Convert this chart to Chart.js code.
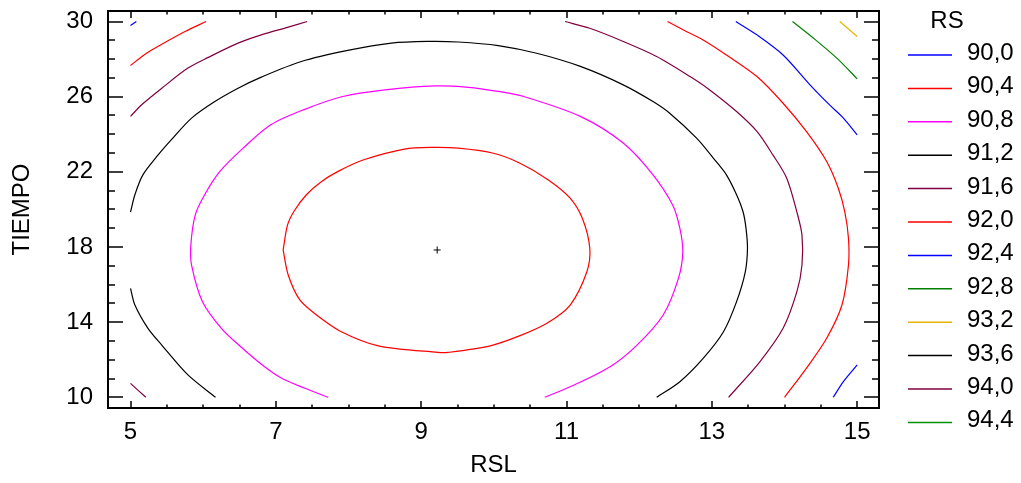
<!DOCTYPE html>
<html>
<head>
<meta charset="utf-8">
<script src="https://cdn.jsdelivr.net/npm/chart.js@4.4.1/dist/chart.umd.min.js"></script>
<style>
  html, body { margin: 0; padding: 0; background: #fff; }
</style>
</head>
<body>
<canvas id="chart" width="1021" height="483"></canvas>
<script>
// CONTOUR LEVELS (RS)

const levels = [90.0, 90.4, 90.8, 91.2, 91.6, 92.0, 92.4, 92.8, 93.2, 93.6, 94.0, 94.4];
const levelColors = [
  '#0000ff', '#ff0000', '#ff00ff', '#000000', '#800040', '#ff0000',
  '#0000ff', '#008000', '#e6b400', '#000000', '#800040', '#009000',
];

const xTicks = [5, 7, 9, 11, 13, 15];
const yTicks = [10, 14, 18, 22, 26, 30];

// contour pieces as [RSL, TIEMPO] pairs

const rs904 = [
  [7.10, 17.84], [7.16, 19.16], [7.25, 19.90], [7.42, 20.78], [7.63, 21.49],
  [7.87, 22.05], [8.21, 22.64], [8.77, 23.21], [9.16, 23.30], [9.51, 23.26],
  [9.98, 23.00], [10.36, 22.46], [10.75, 21.57], [11.05, 20.60], [11.22, 19.50],
  [11.32, 17.93], [11.28, 16.68], [11.05, 14.91], [10.73, 13.94], [10.36, 13.28],
  [9.95, 12.74], [9.37, 12.39], [9.23, 12.39], [8.41, 12.74], [7.90, 13.49],
  [7.56, 14.38], [7.33, 15.18], [7.17, 16.51], [7.10, 17.84],
];

const rs908 = [
  [7.72, 10.00], [7.40, 10.48], [7.08, 11.01], [6.80, 11.76], [6.49, 12.78],
  [6.25, 13.67], [5.99, 15.09], [5.84, 17.04], [5.83, 18.10], [5.89, 19.70],
  [6.02, 20.78], [6.23, 22.02], [6.55, 23.26], [6.93, 24.50], [7.38, 25.30],
  [7.92, 26.01], [8.50, 26.36], [9.19, 26.57], [9.65, 26.50], [10.06, 26.28],
  [10.41, 26.01], [11.19, 24.95], [11.78, 23.53], [12.19, 21.84], [12.46, 20.23],
  [12.56, 18.99], [12.60, 17.74], [12.54, 16.33], [12.33, 14.38], [11.97, 12.78],
  [11.60, 11.63], [11.05, 10.56], [10.70, 10.00],
];

const rs912a = [
  [5.00, 19.86], [5.06, 20.78], [5.17, 21.84], [5.38, 22.90], [5.56, 23.70],
  [5.84, 24.86], [6.16, 25.74], [6.48, 26.45], [6.80, 27.04], [7.35, 27.87],
  [7.99, 28.46], [8.59, 28.85], [9.09, 28.94], [9.51, 28.91], [10.06, 28.72],
  [10.59, 28.31], [11.19, 27.61], [11.78, 26.63], [12.19, 25.74], [12.42, 25.12],
  [12.79, 23.79], [13.02, 22.73], [13.20, 21.84], [13.34, 20.78], [13.43, 19.86],
  [13.47, 18.99], [13.49, 17.93], [13.46, 16.68], [13.34, 15.09], [13.16, 13.49],
  [12.88, 12.07], [12.56, 10.83], [12.24, 10.00],
];
const rs912b = [[5.00, 15.80], [5.06, 14.91], [5.24, 13.67], [5.43, 12.78], [5.79, 11.19], [6.17, 10.00]];

const rs916a = [
  [5.00, 24.95], [5.15, 25.56], [5.43, 26.45], [5.79, 27.52], [6.07, 28.09],
  [6.48, 28.85], [6.80, 29.29], [7.17, 29.70], [7.43, 30.00],
];
const rs916b = [
  [10.98, 30.00], [11.32, 29.64], [11.78, 28.94], [12.24, 28.14], [12.70, 27.07],
  [12.97, 26.36], [13.34, 25.21], [13.62, 24.15], [13.84, 22.90], [14.03, 21.66],
  [14.17, 19.86], [14.24, 18.63], [14.24, 17.04], [14.17, 15.62], [13.98, 13.67],
  [13.66, 11.89], [13.23, 10.00],
];
const rs916c = [[5.00, 10.74], [5.21, 10.00]];

const rs920a = [[5.00, 27.66], [5.20, 28.26], [5.43, 28.79], [5.75, 29.47], [6.04, 30.00]];
const rs920b = [
  [12.39, 30.00], [12.61, 29.55], [12.88, 29.02], [13.20, 28.22], [13.62, 27.07],
  [13.98, 25.65], [14.30, 24.15], [14.58, 22.55], [14.74, 21.13], [14.83, 19.86],
  [14.88, 18.46], [14.88, 17.04], [14.79, 14.91], [14.58, 13.14], [14.30, 11.54],
  [14.00, 10.00],
];

const rs924a = [[5.00, 29.79], [5.08, 30.00]];
const rs924b = [
  [13.33, 30.00], [13.62, 29.29], [13.98, 28.22], [14.35, 26.63], [14.62, 25.56],
  [14.81, 24.86], [15.00, 23.97],
];
const rs924c = [[14.67, 10.00], [14.81, 10.83], [15.00, 11.72]];

const rs928 = [[14.11, 30.00], [14.40, 29.11], [14.72, 28.05], [15.00, 26.95]];
const rs932 = [[14.76, 30.00], [15.00, 29.20]];

const minimumPoint = [9.22, 17.84];

const pieces = [
  { level: 90.4, points: rs904 },
  { level: 90.8, points: rs908 },
  { level: 91.2, points: rs912a },
  { level: 91.2, points: rs912b },
  { level: 91.6, points: rs916a },
  { level: 91.6, points: rs916b },
  { level: 91.6, points: rs916c },
  { level: 92.0, points: rs920a },
  { level: 92.0, points: rs920b },
  { level: 92.4, points: rs924a },
  { level: 92.4, points: rs924b },
  { level: 92.4, points: rs924c },
  { level: 92.8, points: rs928 },
  { level: 93.2, points: rs932 },
];

// CHART

const font = 'Liberation Sans, Arial, sans-serif';

const colorFor = (level) => levelColors[levels.indexOf(level)];

const datasets = pieces.map((p) => ({
  data: p.points.map(([x, y]) => ({ x, y })),
  showLine: true,
  borderColor: colorFor(p.level),
  borderWidth: 1.2,
  pointRadius: 0,
  tension: 0.3,
  fill: false,
}));

datasets.push({
  data: [{ x: minimumPoint[0], y: minimumPoint[1] }],
  pointStyle: 'cross',
  pointRadius: 3.5,
  borderColor: '#000',
  borderWidth: 1,
  showLine: false,
});

const frameAndLegend = {
  id: 'frameAndLegend',
  afterDatasetsDraw(chart) {
    const { ctx, chartArea: a, scales: { x, y } } = chart;
    ctx.save();
    ctx.strokeStyle = '#000';
    ctx.lineWidth = 2;
    ctx.strokeRect(a.left, a.top, a.right - a.left, a.bottom - a.top);

    ctx.lineWidth = 1.5;
    ctx.beginPath();
    for (let v = 5; v <= 15.001; v += 0.5) {
      const px = Math.round(x.getPixelForValue(v));
      const len = xTicks.includes(v) ? 7 : 3.5;
      ctx.moveTo(px, a.bottom);
      ctx.lineTo(px, a.bottom - len);
      ctx.moveTo(px, a.top);
      ctx.lineTo(px, a.top + len);
    }
    for (let v = 10; v <= 30; v += 1) {
      const py = Math.round(y.getPixelForValue(v));
      const len = yTicks.includes(v) ? 15 : 7;
      ctx.moveTo(a.left, py);
      ctx.lineTo(a.left + len, py);
      ctx.moveTo(a.right, py);
      ctx.lineTo(a.right - len, py);
    }
    ctx.stroke();

    // legend
    ctx.fillStyle = '#000';
    ctx.font = '24px ' + font;
    ctx.textAlign = 'center';
    ctx.textBaseline = 'alphabetic';
    ctx.fillText('RS', 947, 28);
    ctx.textAlign = 'left';
    ctx.lineWidth = 1.5;
    levels.forEach((lv, i) => {
      const ly = 55 + i * 33.4;
      ctx.strokeStyle = levelColors[i];
      ctx.beginPath();
      ctx.moveTo(908, ly);
      ctx.lineTo(952, ly);
      ctx.stroke();
      ctx.fillText(lv.toFixed(1).replace('.', ','), 967, ly + 5);
    });
    ctx.restore();
  },
};

const chart = new Chart(document.querySelector('#chart'), {
  type: 'scatter',
  data: { datasets },
  plugins: [frameAndLegend],
  options: {
    responsive: false,
    animation: false,
    devicePixelRatio: 1,
    layout: { padding: { top: 11, right: 142, bottom: 0, left: 0 } },
    plugins: {
      legend: { display: false },
      tooltip: { enabled: false },
    },
    scales: {
      x: {
        type: 'linear',
        min: 4.69,
        max: 15.3,
        afterBuildTicks: (s) => { s.ticks = xTicks.map((v) => ({ value: v })); },
        afterFit: (s) => {
          s.height = 75;
          s.paddingLeft = 0;
          s.paddingRight = 0;
        },
        grid: { display: false, drawTicks: false },
        border: { display: false },
        ticks: { color: '#000', font: { family: font, size: 24 }, padding: 10, maxRotation: 0 },
        title: {
          display: true,
          text: 'RSL',
          color: '#000',
          font: { family: font, size: 24 },
          padding: { top: 0, bottom: 3 },
        },
      },
      y: {
        type: 'linear',
        min: 9.43,
        max: 30.56,
        afterBuildTicks: (s) => { s.ticks = yTicks.map((v) => ({ value: v })); },
        afterFit: (s) => {
          s.width = 108;
          s.paddingTop = 0;
          s.paddingBottom = 0;
        },
        grid: { display: false, drawTicks: false },
        border: { display: false },
        ticks: { color: '#000', font: { family: font, size: 24 }, padding: 15 },
        title: {
          display: true,
          text: 'TIEMPO',
          color: '#000',
          font: { family: font, size: 24 },
          padding: { top: 8, bottom: 0 },
        },
      },
    },
  },
});
</script>
</body>
</html>
